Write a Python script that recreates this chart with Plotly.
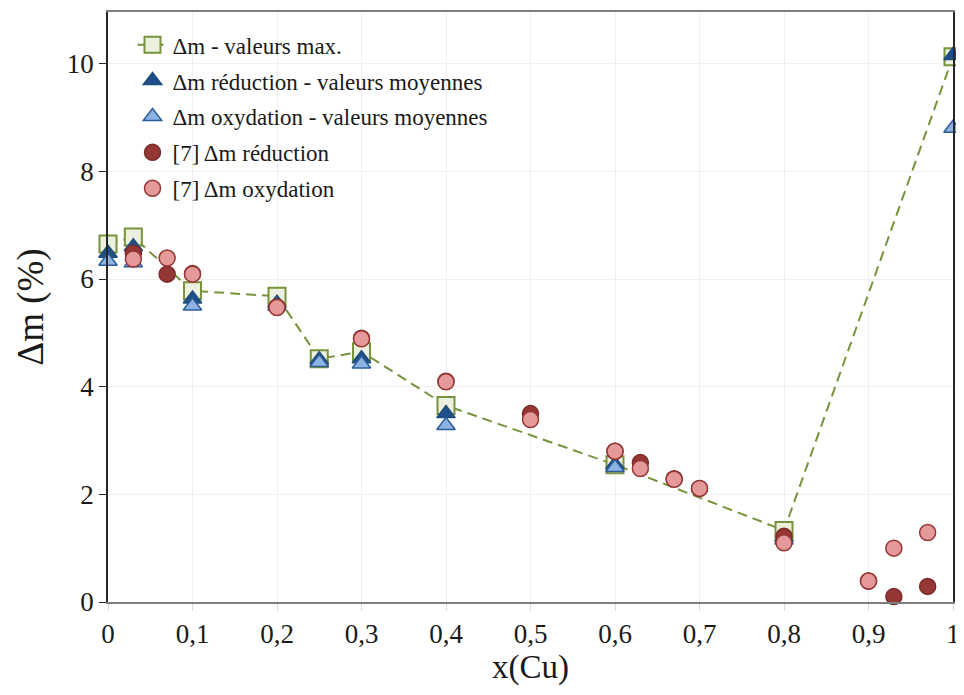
import plotly.graph_objects as go

# Δm - valeurs max.
x_max = [0, 0.03, 0.1, 0.2, 0.25, 0.3, 0.4, 0.6, 0.8, 1.0]
y_max = [6.65, 6.78, 5.78, 5.68, 4.52, 4.65, 3.65, 2.55, 1.33, 10.13]

# Δm réduction - valeurs moyennes
x_red = [0, 0.03, 0.1, 0.2, 0.25, 0.3, 0.4, 0.6, 0.8, 1.0]
y_red = [6.48, 6.6, 5.63, 5.55, 4.5, 4.52, 3.5, 2.55, 1.2, 10.15]

# Δm oxydation - valeurs moyennes
x_oxy = [0, 0.03, 0.1, 0.2, 0.25, 0.3, 0.4, 0.6, 0.8, 1.0]
y_oxy = [6.33, 6.3, 5.5, 5.5, 4.45, 4.42, 3.28, 2.5, 1.15, 8.8]

# [7] Δm réduction
x_ref_red = [0.03, 0.07, 0.1, 0.2, 0.3, 0.4, 0.5, 0.6, 0.63, 0.67, 0.7, 0.8, 0.9, 0.93, 0.97]
y_ref_red = [6.48, 6.09, 6.1, 5.48, 4.9, 4.1, 3.5, 2.8, 2.59, 2.29, 2.11, 1.22, 0.39, 0.1, 0.29]

# [7] Δm oxydation
x_ref_oxy = [0.03, 0.07, 0.1, 0.2, 0.3, 0.4, 0.5, 0.6, 0.63, 0.67, 0.7, 0.8, 0.9, 0.93, 0.97]
y_ref_oxy = [6.37, 6.39, 6.09, 5.47, 4.89, 4.09, 3.39, 2.8, 2.48, 2.28, 2.11, 1.1, 0.39, 1.0, 1.29]

x_tickvals = [0, 0.1, 0.2, 0.3, 0.4, 0.5, 0.6, 0.7, 0.8, 0.9, 1.0]
x_ticktext = ["0", "0,1", "0,2", "0,3", "0,4", "0,5", "0,6", "0,7", "0,8", "0,9", "1"]
y_tickvals = [0, 2, 4, 6, 8, 10]
y_ticktext = ["0", "2", "4", "6", "8", "10"]

FONT = "Liberation Serif, Times New Roman, serif"

fig = go.Figure()
fig.add_trace(go.Scatter(
    x=x_max, y=y_max, mode="lines+markers", name="Δm - valeurs max.",
    line=dict(color="#77933c", width=2, dash="10px,6px"),
    marker=dict(symbol="square", size=17, color="#ebf1de",
                line=dict(color="#77933c", width=2)),
    legendgroup="a", cliponaxis=False))
fig.add_trace(go.Scatter(
    x=x_red, y=y_red, mode="markers", name="Δm réduction - valeurs moyennes",
    marker=dict(symbol="triangle-up", size=16, color="#1f4e8c",
                line=dict(color="#1f4e79", width=1.5)),
    legendgroup="b", cliponaxis=False))
fig.add_trace(go.Scatter(
    x=x_oxy, y=y_oxy, mode="markers", name="Δm oxydation - valeurs moyennes",
    marker=dict(symbol="triangle-up", size=16, color="#8db3e2",
                line=dict(color="#2e5c99", width=1.5)),
    legendgroup="c", cliponaxis=False))
fig.add_trace(go.Scatter(
    x=x_ref_red, y=y_ref_red, mode="markers", name="[7] Δm réduction",
    marker=dict(symbol="circle", size=16, color="#953735",
                line=dict(color="#7b2b29", width=1.5)),
    legendgroup="d", cliponaxis=False))
fig.add_trace(go.Scatter(
    x=x_ref_oxy, y=y_ref_oxy, mode="markers", name="[7] Δm oxydation",
    marker=dict(symbol="circle", size=16, color="#e6999a",
                line=dict(color="#953735", width=1.5)),
    legendgroup="e", cliponaxis=False))

fig.update_layout(
    width=956, height=687,
    margin=dict(l=100, r=11, t=2, b=93),
    paper_bgcolor="white", plot_bgcolor="white",
    font=dict(family=FONT, color="#1a1a1a"),
    showlegend=True,
    legend=dict(x=0.029, y=0.981, xanchor="left", yanchor="top",
                bgcolor="rgba(255,255,255,0)", font=dict(size=23, family=FONT),
                traceorder="grouped", tracegroupgap=3, itemwidth=30),
    xaxis=dict(range=[0, 1], tickvals=x_tickvals, ticktext=x_ticktext,
               showgrid=True, gridcolor="#efefef", gridwidth=1,
               showline=True, linecolor="#7f7f7f", linewidth=1.5, mirror=True,
               ticks="outside", ticklen=7, tickcolor="#d9d9d9",
               tickfont=dict(size=27, family=FONT), ticklabeloverflow="allow",
               title=dict(text="x(Cu)", font=dict(size=33, family=FONT), standoff=6),
               zeroline=False),
    yaxis=dict(range=[0, 10.96], tickvals=y_tickvals, ticktext=y_ticktext,
               showgrid=True, gridcolor="#efefef", gridwidth=1,
               showline=True, linecolor="#262626", linewidth=1.5, mirror=True,
               ticks="outside", ticklen=7, tickcolor="#262626",
               tickfont=dict(size=27, family=FONT),
               title=dict(text="Δm (%)", font=dict(size=37, family=FONT), standoff=12),
               zeroline=False),
)

fig.write_html("out.html")
